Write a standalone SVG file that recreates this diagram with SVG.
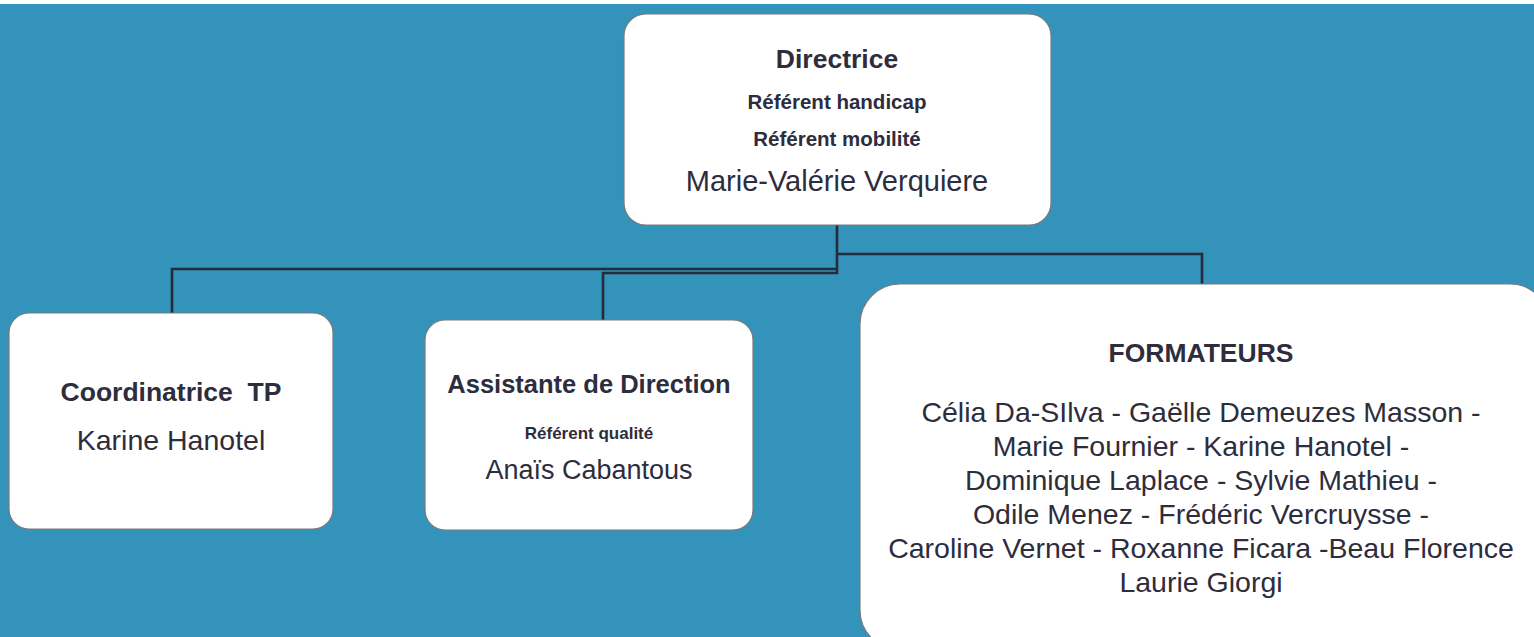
<svg xmlns="http://www.w3.org/2000/svg" width="1534" height="637" viewBox="0 0 1534 637">
<style>
.box{fill:#ffffff;stroke:#7a7a7a;stroke-width:1.2}
.t{font-family:"Liberation Sans",Arial,sans-serif;fill:#2d2d3d;text-anchor:middle}
.b{font-weight:bold}
.title{font-size:26.5px}
.sub{font-size:20.5px}
.name{font-size:28.5px}
.conn{fill:none;stroke:#272a38;stroke-width:2.6}
</style>
<rect x="0" y="0" width="1534" height="637" fill="#ffffff"/>
<rect x="0" y="4" width="1534" height="633" fill="#3493ba"/>
<g id="connectors">
<path class="conn" d="M837,225 V273 H603 V320"/>
<path class="conn" d="M837,269 H172 V313"/>
<path class="conn" d="M837,254 H1202 V284"/>
</g>
<g id="directrice">
<rect class="box" x="624" y="14" width="427" height="211" rx="22"/>
<text class="t b title" x="837" y="68">Directrice</text>
<text class="t b sub" x="837" y="109">Référent handicap</text>
<text class="t b sub" x="837" y="146">Référent mobilité</text>
<text class="t name" x="837" y="191" style="font-size:29px">Marie-Valérie Verquiere</text>
</g>
<g id="coordinatrice">
<rect class="box" x="9" y="313" width="324" height="216" rx="20"/>
<text class="t b title" x="171" y="401" xml:space="preserve">Coordinatrice  TP</text>
<text class="t name" x="171" y="450">Karine Hanotel</text>
</g>
<g id="assistante">
<rect class="box" x="425" y="320" width="328" height="210" rx="20"/>
<text class="t b title" x="589" y="393" style="font-size:25.5px">Assistante de Direction</text>
<text class="t b sub" x="589" y="439" style="font-size:17px">Référent qualité</text>
<text class="t name" x="589" y="479" style="font-size:27px">Anaïs Cabantous</text>
</g>
<g id="formateurs">
<rect class="box" x="860" y="284" width="690" height="366" rx="40"/>
<text class="t b title" x="1201" y="362">FORMATEURS</text>
<text class="t name" x="1201" y="422">Célia Da-SIlva - Gaëlle Demeuzes Masson -</text>
<text class="t name" x="1201" y="456">Marie Fournier - Karine Hanotel -</text>
<text class="t name" x="1201" y="490">Dominique Laplace - Sylvie Mathieu -</text>
<text class="t name" x="1201" y="524">Odile Menez - Frédéric Vercruysse -</text>
<text class="t name" x="1201" y="558">Caroline Vernet - Roxanne Ficara -Beau Florence</text>
<text class="t name" x="1201" y="592">Laurie Giorgi</text>
</g>
</svg>
